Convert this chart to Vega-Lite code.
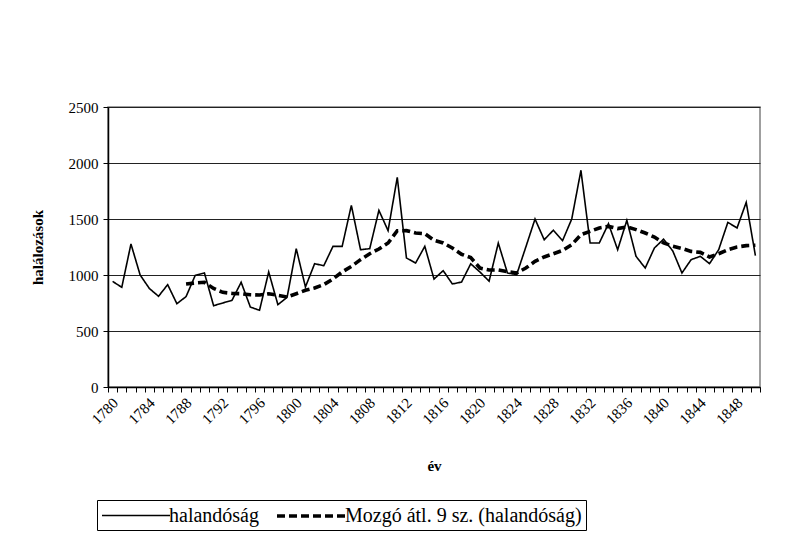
{
  "$schema": "https://vega.github.io/schema/vega-lite/v6.json",
  "width": 652,
  "height": 280,
  "autosize": {"type": "none"},
  "padding": {"left": 108, "top": 107, "right": 37, "bottom": 146},
  "background": "white",
  "config": {
    "font": "Liberation Serif",
    "axis": {"labelFont": "Liberation Serif", "titleFont": "Liberation Serif"},
    "legend": {"labelFont": "Liberation Serif", "titleFont": "Liberation Serif"},
    "view": {"stroke": "#808080", "strokeWidth": 1.5}
  },
  "datasets": {
    "mort": [
      {"year": 1780, "series": "halandóság", "value": 943},
      {"year": 1781, "series": "halandóság", "value": 890},
      {"year": 1782, "series": "halandóság", "value": 1277},
      {"year": 1783, "series": "halandóság", "value": 1000},
      {"year": 1784, "series": "halandóság", "value": 880},
      {"year": 1785, "series": "halandóság", "value": 810},
      {"year": 1786, "series": "halandóság", "value": 914},
      {"year": 1787, "series": "halandóság", "value": 744},
      {"year": 1788, "series": "halandóság", "value": 807},
      {"year": 1789, "series": "halandóság", "value": 997},
      {"year": 1790, "series": "halandóság", "value": 1018},
      {"year": 1791, "series": "halandóság", "value": 726},
      {"year": 1792, "series": "halandóság", "value": 750},
      {"year": 1793, "series": "halandóság", "value": 774},
      {"year": 1794, "series": "halandóság", "value": 935},
      {"year": 1795, "series": "halandóság", "value": 714},
      {"year": 1796, "series": "halandóság", "value": 685},
      {"year": 1797, "series": "halandóság", "value": 1027},
      {"year": 1798, "series": "halandóság", "value": 735},
      {"year": 1799, "series": "halandóság", "value": 800},
      {"year": 1800, "series": "halandóság", "value": 1235},
      {"year": 1801, "series": "halandóság", "value": 893},
      {"year": 1802, "series": "halandóság", "value": 1101},
      {"year": 1803, "series": "halandóság", "value": 1083},
      {"year": 1804, "series": "halandóság", "value": 1256},
      {"year": 1805, "series": "halandóság", "value": 1256},
      {"year": 1806, "series": "halandóság", "value": 1622},
      {"year": 1807, "series": "halandóság", "value": 1226},
      {"year": 1808, "series": "halandóság", "value": 1235},
      {"year": 1809, "series": "halandóság", "value": 1577},
      {"year": 1810, "series": "halandóság", "value": 1396},
      {"year": 1811, "series": "halandóság", "value": 1872},
      {"year": 1812, "series": "halandóság", "value": 1152},
      {"year": 1813, "series": "halandóság", "value": 1107},
      {"year": 1814, "series": "halandóság", "value": 1256},
      {"year": 1815, "series": "halandóság", "value": 964},
      {"year": 1816, "series": "halandóság", "value": 1039},
      {"year": 1817, "series": "halandóság", "value": 920},
      {"year": 1818, "series": "halandóság", "value": 937},
      {"year": 1819, "series": "halandóság", "value": 1100},
      {"year": 1820, "series": "halandóság", "value": 1027},
      {"year": 1821, "series": "halandóság", "value": 945},
      {"year": 1822, "series": "halandóság", "value": 1285},
      {"year": 1823, "series": "halandóság", "value": 1018},
      {"year": 1824, "series": "halandóság", "value": 1003},
      {"year": 1825, "series": "halandóság", "value": 1250},
      {"year": 1826, "series": "halandóság", "value": 1500},
      {"year": 1827, "series": "halandóság", "value": 1315},
      {"year": 1828, "series": "halandóság", "value": 1400},
      {"year": 1829, "series": "halandóság", "value": 1307},
      {"year": 1830, "series": "halandóság", "value": 1500},
      {"year": 1831, "series": "halandóság", "value": 1934},
      {"year": 1832, "series": "halandóság", "value": 1286},
      {"year": 1833, "series": "halandóság", "value": 1286},
      {"year": 1834, "series": "halandóság", "value": 1458},
      {"year": 1835, "series": "halandóság", "value": 1226},
      {"year": 1836, "series": "halandóság", "value": 1488},
      {"year": 1837, "series": "halandóság", "value": 1167},
      {"year": 1838, "series": "halandóság", "value": 1062},
      {"year": 1839, "series": "halandóság", "value": 1241},
      {"year": 1840, "series": "halandóság", "value": 1320},
      {"year": 1841, "series": "halandóság", "value": 1215},
      {"year": 1842, "series": "halandóság", "value": 1018},
      {"year": 1843, "series": "halandóság", "value": 1137},
      {"year": 1844, "series": "halandóság", "value": 1167},
      {"year": 1845, "series": "halandóság", "value": 1101},
      {"year": 1846, "series": "halandóság", "value": 1226},
      {"year": 1847, "series": "halandóság", "value": 1470},
      {"year": 1848, "series": "halandóság", "value": 1420},
      {"year": 1849, "series": "halandóság", "value": 1649},
      {"year": 1850, "series": "halandóság", "value": 1173},
      {"year": 1788, "series": "Mozgó átl. 9 sz. (halandóság)", "value": 920},
      {"year": 1789, "series": "Mozgó átl. 9 sz. (halandóság)", "value": 929},
      {"year": 1790, "series": "Mozgó átl. 9 sz. (halandóság)", "value": 935},
      {"year": 1791, "series": "Mozgó átl. 9 sz. (halandóság)", "value": 880},
      {"year": 1792, "series": "Mozgó átl. 9 sz. (halandóság)", "value": 845},
      {"year": 1793, "series": "Mozgó átl. 9 sz. (halandóság)", "value": 836},
      {"year": 1794, "series": "Mozgó átl. 9 sz. (halandóság)", "value": 833},
      {"year": 1795, "series": "Mozgó átl. 9 sz. (halandóság)", "value": 824},
      {"year": 1796, "series": "Mozgó átl. 9 sz. (halandóság)", "value": 821},
      {"year": 1797, "series": "Mozgó átl. 9 sz. (halandóság)", "value": 833},
      {"year": 1798, "series": "Mozgó átl. 9 sz. (halandóság)", "value": 818},
      {"year": 1799, "series": "Mozgó átl. 9 sz. (halandóság)", "value": 804},
      {"year": 1800, "series": "Mozgó átl. 9 sz. (halandóság)", "value": 833},
      {"year": 1801, "series": "Mozgó átl. 9 sz. (halandóság)", "value": 863},
      {"year": 1802, "series": "Mozgó átl. 9 sz. (halandóság)", "value": 884},
      {"year": 1803, "series": "Mozgó átl. 9 sz. (halandóság)", "value": 914},
      {"year": 1804, "series": "Mozgó átl. 9 sz. (halandóság)", "value": 965},
      {"year": 1805, "series": "Mozgó átl. 9 sz. (halandóság)", "value": 1027},
      {"year": 1806, "series": "Mozgó átl. 9 sz. (halandóság)", "value": 1077},
      {"year": 1807, "series": "Mozgó átl. 9 sz. (halandóság)", "value": 1137},
      {"year": 1808, "series": "Mozgó átl. 9 sz. (halandóság)", "value": 1190},
      {"year": 1809, "series": "Mozgó átl. 9 sz. (halandóság)", "value": 1232},
      {"year": 1810, "series": "Mozgó átl. 9 sz. (halandóság)", "value": 1286},
      {"year": 1811, "series": "Mozgó átl. 9 sz. (halandóság)", "value": 1395},
      {"year": 1812, "series": "Mozgó átl. 9 sz. (halandóság)", "value": 1396},
      {"year": 1813, "series": "Mozgó átl. 9 sz. (halandóság)", "value": 1375},
      {"year": 1814, "series": "Mozgó átl. 9 sz. (halandóság)", "value": 1369},
      {"year": 1815, "series": "Mozgó átl. 9 sz. (halandóság)", "value": 1310},
      {"year": 1816, "series": "Mozgó átl. 9 sz. (halandóság)", "value": 1286},
      {"year": 1817, "series": "Mozgó átl. 9 sz. (halandóság)", "value": 1241},
      {"year": 1818, "series": "Mozgó átl. 9 sz. (halandóság)", "value": 1185},
      {"year": 1819, "series": "Mozgó átl. 9 sz. (halandóság)", "value": 1155},
      {"year": 1820, "series": "Mozgó átl. 9 sz. (halandóság)", "value": 1062},
      {"year": 1821, "series": "Mozgó átl. 9 sz. (halandóság)", "value": 1045},
      {"year": 1822, "series": "Mozgó átl. 9 sz. (halandóság)", "value": 1045},
      {"year": 1823, "series": "Mozgó átl. 9 sz. (halandóság)", "value": 1030},
      {"year": 1824, "series": "Mozgó átl. 9 sz. (halandóság)", "value": 1018},
      {"year": 1825, "series": "Mozgó átl. 9 sz. (halandóság)", "value": 1062},
      {"year": 1826, "series": "Mozgó átl. 9 sz. (halandóság)", "value": 1122},
      {"year": 1827, "series": "Mozgó átl. 9 sz. (halandóság)", "value": 1161},
      {"year": 1828, "series": "Mozgó átl. 9 sz. (halandóság)", "value": 1190},
      {"year": 1829, "series": "Mozgó átl. 9 sz. (halandóság)", "value": 1220},
      {"year": 1830, "series": "Mozgó átl. 9 sz. (halandóság)", "value": 1271},
      {"year": 1831, "series": "Mozgó átl. 9 sz. (halandóság)", "value": 1360},
      {"year": 1832, "series": "Mozgó átl. 9 sz. (halandóság)", "value": 1390},
      {"year": 1833, "series": "Mozgó átl. 9 sz. (halandóság)", "value": 1420},
      {"year": 1834, "series": "Mozgó átl. 9 sz. (halandóság)", "value": 1434},
      {"year": 1835, "series": "Mozgó átl. 9 sz. (halandóság)", "value": 1414},
      {"year": 1836, "series": "Mozgó átl. 9 sz. (halandóság)", "value": 1429},
      {"year": 1837, "series": "Mozgó átl. 9 sz. (halandóság)", "value": 1405},
      {"year": 1838, "series": "Mozgó átl. 9 sz. (halandóság)", "value": 1375},
      {"year": 1839, "series": "Mozgó átl. 9 sz. (halandóság)", "value": 1339},
      {"year": 1840, "series": "Mozgó átl. 9 sz. (halandóság)", "value": 1286},
      {"year": 1841, "series": "Mozgó átl. 9 sz. (halandóság)", "value": 1258},
      {"year": 1842, "series": "Mozgó átl. 9 sz. (halandóság)", "value": 1237},
      {"year": 1843, "series": "Mozgó átl. 9 sz. (halandóság)", "value": 1211},
      {"year": 1844, "series": "Mozgó átl. 9 sz. (halandóság)", "value": 1202},
      {"year": 1845, "series": "Mozgó átl. 9 sz. (halandóság)", "value": 1161},
      {"year": 1846, "series": "Mozgó átl. 9 sz. (halandóság)", "value": 1190},
      {"year": 1847, "series": "Mozgó átl. 9 sz. (halandóság)", "value": 1226},
      {"year": 1848, "series": "Mozgó átl. 9 sz. (halandóság)", "value": 1250},
      {"year": 1849, "series": "Mozgó átl. 9 sz. (halandóság)", "value": 1262},
      {"year": 1850, "series": "Mozgó átl. 9 sz. (halandóság)", "value": 1265}
    ]
  },
  "data": {"name": "mort"},
  "mark": {"type": "line", "strokeCap": "butt"},
  "encoding": {
    "x": {
      "field": "year",
      "type": "quantitative",
      "scale": {"domain": [1779.5, 1850.5], "nice": false, "zero": false},
      "axis": {
        "values": [1779.5,1780.5,1781.5,1782.5,1783.5,1784.5,1785.5,1786.5,1787.5,1788.5,1789.5,1790.5,1791.5,1792.5,1793.5,1794.5,1795.5,1796.5,1797.5,1798.5,1799.5,1800.5,1801.5,1802.5,1803.5,1804.5,1805.5,1806.5,1807.5,1808.5,1809.5,1810.5,1811.5,1812.5,1813.5,1814.5,1815.5,1816.5,1817.5,1818.5,1819.5,1820.5,1821.5,1822.5,1823.5,1824.5,1825.5,1826.5,1827.5,1828.5,1829.5,1830.5,1831.5,1832.5,1833.5,1834.5,1835.5,1836.5,1837.5,1838.5,1839.5,1840.5,1841.5,1842.5,1843.5,1844.5,1845.5,1846.5,1847.5,1848.5,1849.5,1850.5],
        "labelExpr": "(datum.value + 0.5 - 1780) % 4 == 0 ? toString(datum.value + 0.5) : ''",
        "labelAngle": -45,
        "labelAlign": "right",
        "labelBaseline": "middle",
        "labelOffset": 7,
        "labelPadding": 8,
        "labelOverlap": false,
        "labelFlush": false,
        "labelBound": false,
        "labelFont": "Liberation Serif",
        "labelFontSize": 15,
        "labelColor": "black",
        "tickSize": 5,
        "tickColor": "black",
        "domainColor": "black",
        "domainWidth": 1.5,
        "grid": false,
        "title": "év",
        "titleFont": "Liberation Serif",
        "titleFontSize": 15,
        "titleFontWeight": "bold",
        "titleColor": "black",
        "titleBaseline": "middle",
        "titleY": 78
      }
    },
    "y": {
      "field": "value",
      "type": "quantitative",
      "scale": {"domain": [0, 2500], "nice": false},
      "axis": {
        "values": [0, 500, 1000, 1500, 2000, 2500],
        "format": "d",
        "grid": true,
        "gridColor": "#222",
        "gridWidth": 1,
        "tickSize": 5,
        "tickColor": "black",
        "domainColor": "black",
        "domainWidth": 1.5,
        "labelFont": "Liberation Serif",
        "labelFontSize": 15,
        "labelColor": "black",
        "labelPadding": 5,
        "title": "halálozások",
        "titleFont": "Liberation Serif",
        "titleFontSize": 15,
        "titleFontWeight": "bold",
        "titleColor": "black",
        "titleBaseline": "middle",
        "titleX": -71
      }
    },
    "color": {
      "field": "series",
      "type": "nominal",
      "scale": {"domain": ["halandóság", "Mozgó átl. 9 sz. (halandóság)"], "range": ["black", "black"]},
      "legend": {
        "orient": "none",
        "legendX": -11,
        "legendY": 393,
        "direction": "horizontal",
        "title": null,
        "strokeColor": "black",
        "padding": 4,
        "labelFont": "Liberation Serif",
        "labelFontSize": 20,
        "labelColor": "black",
        "labelLimit": 600,
        "labelOffset": 46,
        "symbolType": "M-1,0H5.8",
        "symbolSize": 400,
        "symbolStrokeColor": "black",
        "columnPadding": 10
      }
    },
    "strokeDash": {
      "field": "series",
      "type": "nominal",
      "scale": {"domain": ["halandóság", "Mozgó átl. 9 sz. (halandóság)"], "range": [[1, 0], [8, 4]]}
    },
    "strokeWidth": {
      "field": "series",
      "type": "nominal",
      "scale": {"domain": ["halandóság", "Mozgó átl. 9 sz. (halandóság)"], "range": [1.6, 3.6]}
    }
  }
}
